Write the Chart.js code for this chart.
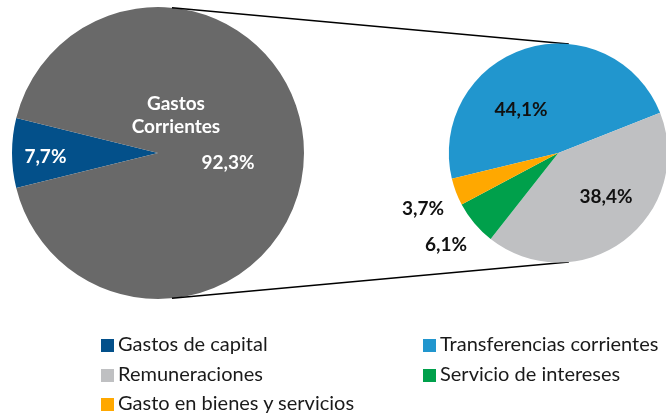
<!DOCTYPE html>
<html>
<head>
<meta charset="utf-8">
<script src="https://cdn.jsdelivr.net/npm/chart.js@4.4.1/dist/chart.umd.min.js"></script>
<style>
  body { margin: 0; width: 666px; height: 413px; overflow: hidden; background: #fff; font-family: Lato, sans-serif; }
  canvas { position: absolute; left: 0; top: 0; }
  .item { position: absolute; font-size: 20px; line-height: 20px; color: #1a1a1a; white-space: nowrap; }
  .item span { display: inline-block; width: 13px; height: 13px; margin-right: 4px; vertical-align: -1px; }
</style>
</head>
<body>
<canvas id="pieTotal" width="666" height="413"></canvas>
<canvas id="pieCorr" width="666" height="413"></canvas>
<div id="leyenda"></div>
<script>
// gasto total: capital vs corrientes
const totalLabels = ['Gastos de capital', 'Gastos Corrientes'];
const totalValues = [7.7, 92.3];
const totalColors = ['#03508A', '#696969'];

// desglose de gastos corrientes (en % del total)
const corrLabels = ['Transferencias corrientes', 'Remuneraciones', 'Servicio de intereses', 'Gasto en bienes y servicios'];
const corrValues = [44.1, 38.4, 6.1, 3.7];
const corrColors = ['#2196CE', '#BFC0C2', '#00A04B', '#FFA800'];

// posicion de las etiquetas, relativa al centro y en radios
const totalLabelPos = [[-0.771, 0.027], [0.479, 0.068]];
const corrLabelPos = [[-0.341, -0.393], [0.436, 0.402], [-1.026, 0.840], [-1.236, 0.511]];
const corrTextColors = ['#111', '#111', '#111', '#111'];

function pct(v) {
  return v.toFixed(1).replace('.', ',') + '%';
}

function drawLabels(chart, values, pos, colors, extra) {
  const arc = chart.getDatasetMeta(0).data[0];
  const ctx = chart.ctx;
  const r = arc.outerRadius;
  ctx.save();
  ctx.font = 'bold 19px Lato';
  ctx.textAlign = 'center';
  ctx.textBaseline = 'middle';
  values.forEach(function(v, i) {
    ctx.fillStyle = colors[i];
    ctx.fillText(pct(v), arc.x + pos[i][0] * r, arc.y + pos[i][1] * r);
  });
  if (extra) {
    ctx.fillStyle = '#fff';
    extra.lines.forEach(function(t, j) {
      ctx.fillText(t, arc.x + extra.dx * r, arc.y + (extra.dy + j * 0.158) * r);
    });
  }
  ctx.restore();
}

const totalChart = new Chart(document.getElementById('pieTotal'), {
  type: 'pie',
  data: {
    labels: totalLabels,
    datasets: [{
      data: totalValues,
      backgroundColor: totalColors,
      borderWidth: 0
    }]
  },
  options: {
    responsive: false,
    animation: false,
    rotation: 270 - totalValues[0] / 100 * 180,
    layout: { padding: { left: 12, top: 7, right: 362, bottom: 114 } },
    plugins: { legend: { display: false }, tooltip: { enabled: false } }
  },
  plugins: [{
    id: 'etiquetas',
    afterDatasetsDraw: function(chart) {
      drawLabels(chart, totalValues, totalLabelPos, ['#fff', '#fff'],
        { lines: totalLabels[1].split(' '), dx: 0.123, dy: -0.336 });
    }
  }]
});

const corrSum = corrValues.reduce(function(a, b) { return a + b; }, 0);

const corrChart = new Chart(document.getElementById('pieCorr'), {
  type: 'pie',
  data: {
    labels: corrLabels,
    datasets: [{
      data: corrValues,
      backgroundColor: corrColors,
      borderWidth: 0,
      clip: false
    }]
  },
  options: {
    responsive: false,
    animation: false,
    radius: 109.5,
    rotation: 68.4 - corrValues[0] / corrSum * 360,
    layout: { padding: { left: 450.6, top: 43.5, right: 0, bottom: 150.5 } },
    plugins: { legend: { display: false }, tooltip: { enabled: false } }
  },
  plugins: [{
    id: 'conectores',
    beforeDatasetsDraw: function(chart) {
      const a = totalChart.getDatasetMeta(0).data[0];
      const b = chart.getDatasetMeta(0).data[0];
      const ang = 5.5 * Math.PI / 180;
      const ctx = chart.ctx;
      ctx.save();
      ctx.strokeStyle = '#000';
      ctx.lineWidth = 1.5;
      [-1, 1].forEach(function(s) {
        ctx.beginPath();
        ctx.moveTo(a.x + a.outerRadius * Math.sin(ang), a.y + s * a.outerRadius * Math.cos(ang));
        ctx.lineTo(b.x + b.outerRadius * Math.sin(ang), b.y + s * b.outerRadius * Math.cos(ang));
        ctx.stroke();
      });
      ctx.restore();
    },
    afterDatasetsDraw: function(chart) {
      drawLabels(chart, corrValues, corrLabelPos, corrTextColors);
    }
  }]
});

// leyenda en dos columnas
const legendLabels = [totalLabels[0]].concat(corrLabels);
const legendColors = [totalColors[0]].concat(corrColors);
const leyenda = document.getElementById('leyenda');
legendLabels.forEach(function(t, i) {
  const d = document.createElement('div');
  d.className = 'item';
  d.style.left = (i % 2 == 0 ? 101 : 423) + 'px';
  d.style.top = (333 + Math.floor(i / 2) * 29.5) + 'px';
  d.innerHTML = '<span style="background:' + legendColors[i] + '"></span>' + t;
  leyenda.appendChild(d);
});
</script>
</body>
</html>
